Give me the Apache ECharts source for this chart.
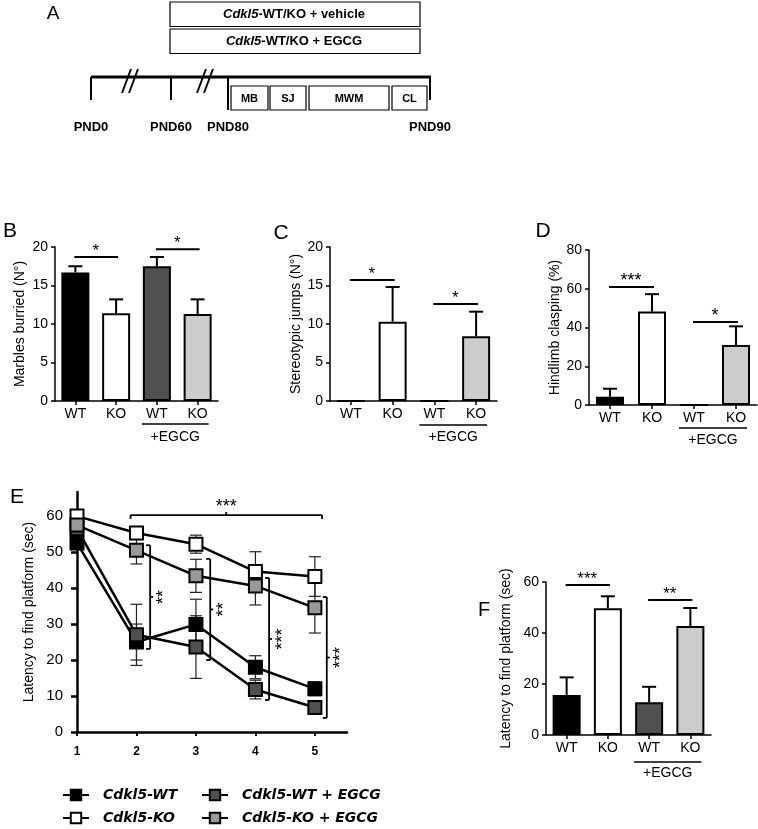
<!DOCTYPE html>
<html><head><meta charset="utf-8">
<script src="https://cdn.jsdelivr.net/npm/echarts@6/dist/echarts.min.js"></script>
<style>html,body{margin:0;padding:0;background:#fff}#c{width:758px;height:829px}</style>
</head><body><div id="c"></div>
<script>
// ---------------- data ----------------
const barCats = ['WT', 'KO', 'WT', 'KO'];
const barColors = ['#000000', '#ffffff', '#505050', '#cccccc'];
const marblesMean = [16.7, 11.4, 17.5, 11.3];
const marblesErr = [0.8, 1.8, 1.2, 1.9];
const jumpsMean = [0, 10.3, 0, 8.4];
const jumpsErr = [0, 4.5, 0, 3.2];
const claspMean = [4.2, 48.2, 0, 31.0];
const claspErr = [4.2, 9.0, 0, 9.6];
const mwmMean = [15.7, 49.7, 12.8, 42.7];
const mwmErr = [6.9, 4.7, 6.1, 7.1];

const days = [1, 2, 3, 4, 5];
const eWT = [52.5, 25.0, 29.9, 18.0, 12.0];
const eWTerr = [1.5, 5.0, 7.0, 3.2, 1.9];
const eKO = [60.0, 55.3, 52.2, 44.6, 43.2];
const eKOerr = [1.0, 1.5, 2.5, 5.5, 5.5];
const eWTE = [56.5, 27.0, 23.6, 11.8, 6.8];
const eWTEerr = [1.5, 8.5, 8.7, 2.6, 1.2];
const eKOE = [57.5, 50.5, 43.4, 40.6, 34.5];
const eKOEerr = [1.5, 3.8, 4.6, 5.3, 7.0];

const seriesNames = ['Cdkl5-WT', 'Cdkl5-KO', 'Cdkl5-WT + EGCG', 'Cdkl5-KO + EGCG'];
const eColors = ['#000000', '#ffffff', '#505050', '#999999'];

// significance annotations [x1, x2, y] (category index / value units)
const sigB = [[0, 1, 18.7], [2, 3, 19.7]];
const sigBText = ['*', '*'];
const sigC = [[0, 1, 15.7], [2, 3, 12.6]];
const sigCText = ['*', '*'];
const sigD = [[0, 1, 60.9], [2, 3, 42.8]];
const sigDText = ['***', '*'];
const sigF = [[0, 1, 58.8], [2, 3, 52.9]];
const sigFText = ['***', '**'];
const eTop = [[1.9, 5.12, 60.3]];
const eTopText = ['***'];
const eSide = [[2.23, 23.1, 51.9], [3.24, 20.0, 48.1], [4.23, 8.9, 42.8], [5.2, 3.9, 37.5]];
const eSideText = ['**', '**', '***', '***'];

// schematic (panel A)
const treatments = ['vehicle', 'EGCG'];
const timePoints = ['PND0', 'PND60', 'PND80', 'PND90'];
const tests = ['MB', 'SJ', 'MWM', 'CL'];
const groupLabel = '+EGCG';

// ---------------- helpers ----------------
const FONT = 'Liberation Sans, Arial, sans-serif';
const axisLine = w => ({ show: true, lineStyle: { color: '#000', width: w } });

function barAxes(gi, max, interval) {
  return {
    x: {
      gridIndex: gi, type: 'category', data: barCats,
      axisLine: axisLine(1.5),
      axisTick: { show: true, alignWithLabel: true, length: 4, lineStyle: { color: '#000', width: 1.5 } },
      axisLabel: { color: '#000', fontSize: 14, fontFamily: FONT, margin: 6 }
    },
    y: {
      gridIndex: gi, type: 'value', min: 0, max: max, interval: interval,
      splitLine: { show: false },
      axisLine: axisLine(1.5),
      axisTick: { show: true, length: 4, lineStyle: { color: '#000', width: 1.5 } },
      axisLabel: { color: '#000', fontSize: 14, fontFamily: FONT, margin: 7 }
    }
  };
}

function barSeries(gi, means) {
  return {
    type: 'bar', xAxisIndex: gi, yAxisIndex: gi, barWidth: 28, z: 3,
    data: means.map((v, i) => ({ value: v, itemStyle: { color: barColors[i] } })),
    itemStyle: { borderColor: '#000', borderWidth: 2 },
    silent: true
  };
}

function upErrSeries(gi, means, errs) {
  return {
    type: 'custom', xAxisIndex: gi, yAxisIndex: gi, z: 2, silent: true, clip: false,
    encode: { x: 0, y: [1, 2] },
    data: means.map((m, i) => [i, m, m + errs[i]]),
    renderItem: function (params, api) {
      const x = api.value(0), m = api.value(1), t = api.value(2);
      if (t - m <= 0) return null;
      const p0 = api.coord([x, m]), p1 = api.coord([x, t]);
      return { type: 'group', children: [
        { type: 'line', shape: { x1: p0[0], y1: p0[1], x2: p1[0], y2: p1[1] }, style: { stroke: '#000', lineWidth: 2 } },
        { type: 'line', shape: { x1: p1[0] - 7, y1: p1[1], x2: p1[0] + 7, y2: p1[1] }, style: { stroke: '#000', lineWidth: 2 } }
      ] };
    }
  };
}

function sigSeries(gi, data, texts, fontSize) {
  return {
    type: 'custom', xAxisIndex: gi, yAxisIndex: gi, z: 5, silent: true, clip: false,
    encode: { x: [0, 1], y: 2 },
    data: data,
    renderItem: function (params, api) {
      const a = api.coord([api.value(0), api.value(2)]);
      const b = api.coord([api.value(1), api.value(2)]);
      return { type: 'group', children: [
        { type: 'line', shape: { x1: a[0] - 1, y1: a[1], x2: b[0] + 2, y2: a[1] }, style: { stroke: '#000', lineWidth: 2 } },
        { type: 'text', x: (a[0] + b[0]) / 2, y: a[1] + 3,
          style: { text: texts[params.dataIndex], fill: '#000', font: fontSize + 'px ' + FONT, align: 'center', verticalAlign: 'bottom' } }
      ] };
    }
  };
}

function groupSeries(gi, off1, off2) {
  // "+EGCG" underline below the last two categories
  return {
    type: 'custom', xAxisIndex: gi, yAxisIndex: gi, z: 5, silent: true, clip: false,
    encode: { x: [0, 1], y: 2 },
    data: [[2, 3, 0]],
    renderItem: function (params, api) {
      const a = api.coord([api.value(0), 0]);
      const b = api.coord([api.value(1), 0]);
      return { type: 'group', children: [
        { type: 'line', shape: { x1: a[0] - 15, y1: a[1] + off1, x2: b[0] + 11, y2: a[1] + off1 }, style: { stroke: '#000', lineWidth: 1.5 } },
        { type: 'text', x: (a[0] + b[0]) / 2 - 2, y: a[1] + off2,
          style: { text: groupLabel, fill: '#000', font: '14px ' + FONT, align: 'center', verticalAlign: 'middle' } }
      ] };
    }
  };
}

// ---------------- axes ----------------
const axB = barAxes(0, 20, 5), axC = barAxes(1, 20, 5), axD = barAxes(2, 80, 20), axF = barAxes(4, 60, 20);
const yName = (ax, name, gap) => Object.assign(ax.y, {
  name: name, nameLocation: 'middle', nameGap: gap,
  nameTextStyle: { color: '#000', fontSize: 14, fontFamily: FONT }
});
yName(axB, 'Marbles burried (N°)', 28);
yName(axC, 'Stereotypic jumps (N°)', 23);
yName(axD, 'Hindlimb clasping (%)', 27);
yName(axF, 'Latency to find platform (sec)', 33);

const axEx = {
  gridIndex: 3, type: 'value', min: 1, max: 5.54,
  splitLine: { show: false },
  axisLine: axisLine(2.5),
  axisTick: { show: true, length: 4, customValues: days, lineStyle: { color: '#000', width: 2 } },
  axisLabel: { color: '#000', fontSize: 12, fontWeight: 'bold', fontFamily: FONT, margin: 14, customValues: days }
};
const eTicks = [0, 10, 20, 30, 40, 50, 60];
const axEy = {
  gridIndex: 3, type: 'value', min: 0, max: 66.7,
  splitLine: { show: false },
  axisLine: axisLine(2.5),
  axisTick: { show: true, length: 6, customValues: eTicks, lineStyle: { color: '#000', width: 2.5 } },
  axisLabel: { color: '#000', fontSize: 15, fontFamily: FONT, margin: 14, customValues: eTicks },
  name: 'Latency to find platform (sec)', nameLocation: 'middle', nameGap: 41,
  nameTextStyle: { color: '#000', fontSize: 14, fontFamily: FONT }
};

// ---------------- panel E series ----------------
const eMeans = [eWT, eKO, eWTE, eKOE];
const eErrs = [eWTerr, eKOerr, eWTEerr, eKOEerr];
const eLineSeries = seriesNames.map((name, k) => ({
  type: 'line', name: name, xAxisIndex: 3, yAxisIndex: 3,
  data: days.map((d, i) => [d, eMeans[k][i]]),
  symbol: 'rect', symbolSize: 13, z: 4 + k,
  lineStyle: { color: '#000', width: 2.5 },
  itemStyle: { color: eColors[k], borderColor: '#000', borderWidth: 2 },
  emphasis: { disabled: true }, silent: true
}));
const eErrSeries = {
  type: 'custom', xAxisIndex: 3, yAxisIndex: 3, z: 2, silent: true, clip: false,
  encode: { x: 0, y: [1, 2] },
  data: [].concat(...eMeans.map((arr, k) => arr.map((m, i) => [days[i], m - eErrs[k][i], m + eErrs[k][i]]))),
  renderItem: function (params, api) {
    const lo = api.coord([api.value(0), api.value(1)]);
    const hi = api.coord([api.value(0), api.value(2)]);
    const st = { stroke: '#222', lineWidth: 1.2 };
    return { type: 'group', children: [
      { type: 'line', shape: { x1: lo[0], y1: lo[1], x2: hi[0], y2: hi[1] }, style: st },
      { type: 'line', shape: { x1: lo[0] - 6, y1: lo[1], x2: lo[0] + 6, y2: lo[1] }, style: st },
      { type: 'line', shape: { x1: hi[0] - 6, y1: hi[1], x2: hi[0] + 6, y2: hi[1] }, style: st }
    ] };
  }
};
const eTopSeries = {
  type: 'custom', xAxisIndex: 3, yAxisIndex: 3, z: 6, silent: true, clip: false,
  encode: { x: [0, 1], y: 2 },
  data: eTop,
  renderItem: function (params, api) {
    const a = api.coord([api.value(0), api.value(2)]);
    const b = api.coord([api.value(1), api.value(2)]);
    const mx = (a[0] + b[0]) / 2;
    const st = { stroke: '#000', lineWidth: 1.8 };
    return { type: 'group', children: [
      { type: 'line', shape: { x1: a[0], y1: a[1], x2: b[0], y2: a[1] }, style: st },
      { type: 'line', shape: { x1: a[0], y1: a[1], x2: a[0], y2: a[1] + 4 }, style: st },
      { type: 'line', shape: { x1: b[0], y1: a[1], x2: b[0], y2: a[1] + 4 }, style: st },
      { type: 'line', shape: { x1: mx, y1: a[1], x2: mx, y2: a[1] - 3 }, style: st },
      { type: 'text', x: mx, y: a[1] + 1, style: { text: eTopText[params.dataIndex], fill: '#000', font: '18px ' + FONT, align: 'center', verticalAlign: 'bottom' } }
    ] };
  }
};
const eSideSeries = {
  type: 'custom', xAxisIndex: 3, yAxisIndex: 3, z: 6, silent: true, clip: false,
  encode: { x: 0, y: [1, 2] },
  data: eSide,
  renderItem: function (params, api) {
    const lo = api.coord([api.value(0), api.value(1)]);
    const hi = api.coord([api.value(0), api.value(2)]);
    const my = (lo[1] + hi[1]) / 2;
    const st = { stroke: '#000', lineWidth: 1.8 };
    return { type: 'group', children: [
      { type: 'line', shape: { x1: lo[0], y1: lo[1], x2: hi[0], y2: hi[1] }, style: st },
      { type: 'line', shape: { x1: lo[0] - 4, y1: lo[1], x2: lo[0], y2: lo[1] }, style: st },
      { type: 'line', shape: { x1: hi[0] - 4, y1: hi[1], x2: hi[0], y2: hi[1] }, style: st },
      { type: 'line', shape: { x1: lo[0], y1: my, x2: lo[0] + 3, y2: my }, style: st },
      { type: 'text', x: lo[0] + 5, y: my, rotation: Math.PI / 2,
        style: { text: eSideText[params.dataIndex], fill: '#000', font: '18px ' + FONT, align: 'center', verticalAlign: 'top' } }
    ] };
  }
};

// ---------------- panel A + letters (graphic) ----------------
const g = [];
const txt = (x, y, text, font, extra) => g.push({ type: 'text', x: x, y: y, silent: true,
  style: Object.assign({ text: text, fill: '#000', font: font, align: 'center', verticalAlign: 'middle' }, extra || {}) });
const rect = (x, y, w, h, lw) => g.push({ type: 'rect', silent: true, shape: { x: x, y: y, width: w, height: h },
  style: { fill: '#fff', stroke: '#000', lineWidth: lw } });
const seg = (x1, y1, x2, y2, lw) => g.push({ type: 'line', silent: true, shape: { x1: x1, y1: y1, x2: x2, y2: y2 },
  style: { stroke: '#000', lineWidth: lw } });

[['A', 53, 14, 19], ['B', 10, 231, 21], ['C', 281, 233, 21], ['D', 543, 231, 21], ['E', 17, 497, 21], ['F', 484, 610, 20]]
  .forEach(l => txt(l[1], l[2], l[0], l[3] + 'px ' + FONT));

// treatment boxes
treatments.forEach((t, i) => {
  const y = 2 + i * 27;
  rect(170, y, 250, 24.5, 1.2);
  txt(294, y + 12.5, '{i|Cdkl5}-WT/KO + ' + t, 'bold 13px ' + FONT,
    { rich: { i: { fontStyle: 'italic', fontWeight: 'bold', fontSize: 13, fontFamily: FONT } } });
});
// timeline
seg(91, 77, 431, 77, 3.2);
const tpX = [91, 171, 228, 430];
const tpBottom = [100, 100, 110, 100];
tpX.forEach((x, i) => { seg(x, 77, x, tpBottom[i], 2); txt(x, 127, timePoints[i], 'bold 13px ' + FONT); });
[[122, 139], [197, 214]].forEach(b => {
  seg(b[0], 93, b[0] + 9, 69, 2);
  seg(b[0] + 7, 93, b[0] + 16, 69, 2);
});
const testBox = [[231, 37], [270, 36], [309, 80], [392, 35]];
tests.forEach((t, i) => {
  rect(testBox[i][0], 86, testBox[i][1], 24, 1.2);
  txt(testBox[i][0] + testBox[i][1] / 2, 99, t, 'bold 11px ' + FONT);
});

// ---------------- option ----------------
const chart = echarts.init(document.getElementById('c'), null, { renderer: 'canvas' });
const legendStyle = { color: '#000', fontFamily: 'DejaVu Sans', fontWeight: 'bold', fontStyle: 'italic', fontSize: 14, padding: [0, 0, 0, 9] };
const legendPos = [[62, 788], [62, 811], [201, 788], [201, 811]];
chart.setOption({
  animation: false,
  backgroundColor: '#fff',
  textStyle: { fontFamily: FONT },
  grid: [
    { left: 55, top: 247, width: 163, height: 154 },
    { left: 330, top: 247, width: 167, height: 154 },
    { left: 589, top: 250, width: 168, height: 155 },
    { left: 77, top: 492, width: 270, height: 240 },
    { left: 546, top: 582, width: 165, height: 153 }
  ],
  xAxis: [axB.x, axC.x, axD.x, axEx, axF.x],
  yAxis: [axB.y, axC.y, axD.y, axEy, axF.y],
  legend: seriesNames.map((n, k) => ({
    data: [n], left: legendPos[k][0], top: legendPos[k][1], padding: 0,
    itemWidth: 26, itemHeight: 13, itemGap: 0, selectedMode: false, textStyle: legendStyle
  })),
  graphic: g,
  series: [
    barSeries(0, marblesMean), upErrSeries(0, marblesMean, marblesErr), sigSeries(0, sigB, sigBText, 17), groupSeries(0, 23, 36),
    barSeries(1, jumpsMean), upErrSeries(1, jumpsMean, jumpsErr), sigSeries(1, sigC, sigCText, 17), groupSeries(1, 24, 36),
    barSeries(2, claspMean), upErrSeries(2, claspMean, claspErr), sigSeries(2, sigD, sigDText, 18), groupSeries(2, 23, 35),
    barSeries(4, mwmMean), upErrSeries(4, mwmMean, mwmErr), sigSeries(4, sigF, sigFText, 17), groupSeries(4, 27, 38),
    eErrSeries, eTopSeries, eSideSeries
  ].concat(eLineSeries)
});
</script></body></html>
